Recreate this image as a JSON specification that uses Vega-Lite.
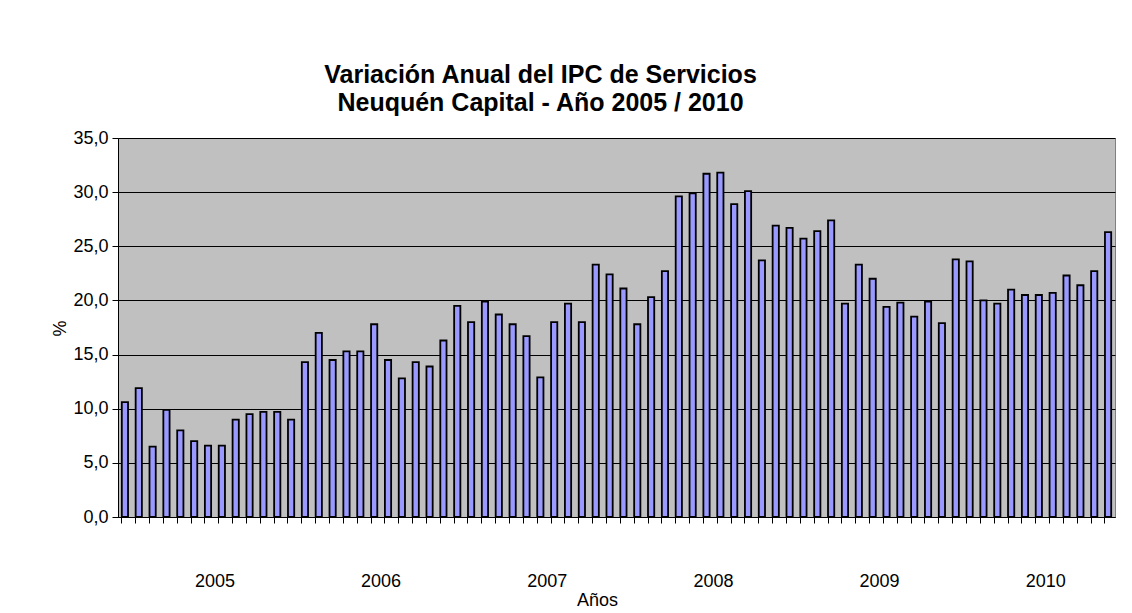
{
  "$schema": "https://vega.github.io/schema/vega-lite/v6.json",
  "width": 997,
  "height": 379,
  "autosize": {"type": "none"},
  "padding": {"left": 118, "top": 138, "right": 17, "bottom": 96},
  "background": "white",
  "title": {
    "text": ["Variación Anual del IPC de  Servicios", "Neuquén Capital - Año 2005 / 2010"],
    "anchor": "middle",
    "dx": -76,
    "offset": 13,
    "fontSize": 25,
    "fontWeight": "bold",
    "lineHeight": 28,
    "color": "#000000",
    "font": "Liberation Sans"
  },
  "data": {
    "values": [
      {"mes": "2005-01", "valor": 10.6}, {"mes": "2005-02", "valor": 11.9}, {"mes": "2005-03", "valor": 6.5}, {"mes": "2005-04", "valor": 9.9},
      {"mes": "2005-05", "valor": 8.0}, {"mes": "2005-06", "valor": 7.0}, {"mes": "2005-07", "valor": 6.6}, {"mes": "2005-08", "valor": 6.6},
      {"mes": "2005-09", "valor": 9.0}, {"mes": "2005-10", "valor": 9.5}, {"mes": "2005-11", "valor": 9.7}, {"mes": "2005-12", "valor": 9.7},
      {"mes": "2006-01", "valor": 9.0}, {"mes": "2006-02", "valor": 14.3}, {"mes": "2006-03", "valor": 17.0}, {"mes": "2006-04", "valor": 14.5},
      {"mes": "2006-05", "valor": 15.3}, {"mes": "2006-06", "valor": 15.3}, {"mes": "2006-07", "valor": 17.8}, {"mes": "2006-08", "valor": 14.5},
      {"mes": "2006-09", "valor": 12.8}, {"mes": "2006-10", "valor": 14.3}, {"mes": "2006-11", "valor": 13.9}, {"mes": "2006-12", "valor": 16.3},
      {"mes": "2007-01", "valor": 19.5}, {"mes": "2007-02", "valor": 18.0}, {"mes": "2007-03", "valor": 19.9}, {"mes": "2007-04", "valor": 18.7},
      {"mes": "2007-05", "valor": 17.8}, {"mes": "2007-06", "valor": 16.7}, {"mes": "2007-07", "valor": 12.9}, {"mes": "2007-08", "valor": 18.0},
      {"mes": "2007-09", "valor": 19.7}, {"mes": "2007-10", "valor": 18.0}, {"mes": "2007-11", "valor": 23.3}, {"mes": "2007-12", "valor": 22.4},
      {"mes": "2008-01", "valor": 21.1}, {"mes": "2008-02", "valor": 17.8}, {"mes": "2008-03", "valor": 20.3}, {"mes": "2008-04", "valor": 22.7},
      {"mes": "2008-05", "valor": 29.6}, {"mes": "2008-06", "valor": 29.9}, {"mes": "2008-07", "valor": 31.7}, {"mes": "2008-08", "valor": 31.8},
      {"mes": "2008-09", "valor": 28.9}, {"mes": "2008-10", "valor": 30.1}, {"mes": "2008-11", "valor": 23.7}, {"mes": "2008-12", "valor": 26.9},
      {"mes": "2009-01", "valor": 26.7}, {"mes": "2009-02", "valor": 25.7}, {"mes": "2009-03", "valor": 26.4}, {"mes": "2009-04", "valor": 27.4},
      {"mes": "2009-05", "valor": 19.7}, {"mes": "2009-06", "valor": 23.3}, {"mes": "2009-07", "valor": 22.0}, {"mes": "2009-08", "valor": 19.4},
      {"mes": "2009-09", "valor": 19.8}, {"mes": "2009-10", "valor": 18.5}, {"mes": "2009-11", "valor": 19.9}, {"mes": "2009-12", "valor": 17.9},
      {"mes": "2010-01", "valor": 23.8}, {"mes": "2010-02", "valor": 23.6}, {"mes": "2010-03", "valor": 20.0}, {"mes": "2010-04", "valor": 19.7},
      {"mes": "2010-05", "valor": 21.0}, {"mes": "2010-06", "valor": 20.5}, {"mes": "2010-07", "valor": 20.5}, {"mes": "2010-08", "valor": 20.7},
      {"mes": "2010-09", "valor": 22.3}, {"mes": "2010-10", "valor": 21.4}, {"mes": "2010-11", "valor": 22.7}, {"mes": "2010-12", "valor": 26.3}
    ]
  },
  "mark": {"type": "bar", "fill": "#9999FF", "stroke": "#000000", "strokeWidth": 1.8},
  "encoding": {
    "x": {
      "field": "mes",
      "type": "ordinal",
      "scale": {"paddingInner": 0.55, "paddingOuter": 0.275},
      "axis": {
        "bandPosition": 0,
        "labelExpr": "substring(datum.value, 5, 7) == '07' ? substring(datum.value, 0, 4) : ''",
        "labelOffset": 6.93,
        "labelAngle": 0,
        "labelOverlap": false,
        "labelFontSize": 18,
        "labelColor": "#000000",
        "labelPadding": 49,
        "tickSize": 6,
        "tickColor": "#000000",
        "domainColor": "#000000",
        "grid": false,
        "title": "Años",
        "titleFontSize": 18,
        "titleFontWeight": "normal",
        "titleColor": "#000000",
        "titleX": 479,
        "titleY": 74,
        "titleAlign": "center",
        "titleBaseline": "top"
      }
    },
    "y": {
      "field": "valor",
      "type": "quantitative",
      "scale": {"domain": [0, 35], "nice": false},
      "axis": {
        "values": [0, 5, 10, 15, 20, 25, 30, 35],
        "labelExpr": "replace(format(datum.value, '.1f'), '.', ',')",
        "labelFontSize": 18,
        "labelColor": "#000000",
        "labelPadding": 4,
        "tickSize": 6,
        "tickColor": "#000000",
        "domainColor": "#000000",
        "grid": true,
        "gridColor": "#000000",
        "gridOpacity": 1,
        "gridWidth": 1,
        "title": "%",
        "titleFontSize": 18,
        "titleFontWeight": "normal",
        "titleColor": "#000000",
        "titleAngle": 270,
        "titleX": -58,
        "titleY": 190,
        "titleAlign": "center",
        "titleBaseline": "middle"
      }
    }
  },
  "config": {
    "font": "Liberation Sans",
    "view": {"fill": "#C0C0C0", "stroke": "#808080", "strokeWidth": 1}
  }
}
